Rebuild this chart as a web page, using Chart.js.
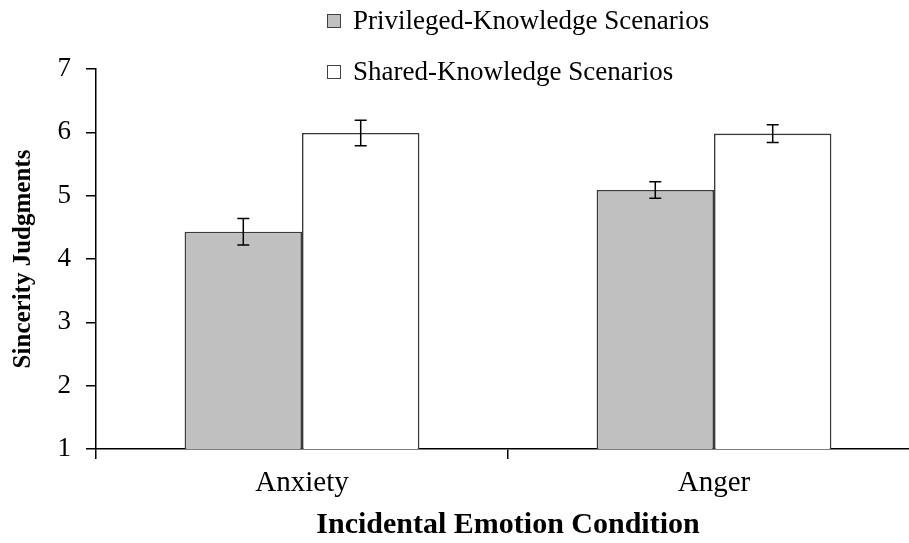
<!DOCTYPE html>
<html>
<head>
<meta charset="utf-8">
<script src="https://cdn.jsdelivr.net/npm/chart.js@4/dist/chart.umd.min.js"></script>
<style>
  html, body { margin: 0; padding: 0; background: #fff; overflow: hidden; }
  #wrap { position: relative; width: 909px; height: 543px; overflow: hidden; }
  #c { position: absolute; left: 0; top: 0; }
  .leg { position: absolute; left: 327px; height: 32px; display: flex; align-items: center;
         font-family: 'Liberation Serif', 'Times New Roman', serif; font-size: 27px; color: #000; white-space: nowrap; }
  .leg .box { width: 12px; height: 12px; border: 1.3px solid #404040; margin-right: 12px; margin-top: 2px; }
</style>
</head>
<body>
<div id="wrap">
  <canvas id="c" width="930" height="543"></canvas>
</div>
<script>
const categories = ['Anxiety', 'Anger'];
const seriesNames = ['Privileged-Knowledge Scenarios', 'Shared-Knowledge Scenarios'];
const privilegedMeans = [4.43, 5.09];
const privilegedErrors = [0.21, 0.13];
const sharedMeans = [5.99, 5.98];
const sharedErrors = [0.20, 0.14];
const yTickValues = [1, 2, 3, 4, 5, 6, 7];
const xTitle = 'Incidental Emotion Condition';
const yTitle = 'Sincerity Judgments';

const fillColors = ['#c0c0c0', '#ffffff'];
const errors = [privilegedErrors, sharedErrors];
const serif = "'Liberation Serif', 'Times New Roman', serif";

// HTML legend built from series names
const legendTops = [4, 55];
seriesNames.forEach((name, i) => {
  const d = document.createElement('div');
  d.className = 'leg';
  d.style.top = legendTops[i] + 'px';
  const b = document.createElement('span');
  b.className = 'box';
  b.style.background = fillColors[i];
  d.appendChild(b);
  d.appendChild(document.createTextNode(name));
  document.getElementById('wrap').appendChild(d);
});

const errorBarPlugin = {
  id: 'errorBars',
  afterDatasetsDraw(chart) {
    const ctx = chart.ctx;
    const y = chart.scales.y;
    ctx.save();
    ctx.strokeStyle = '#000';
    ctx.lineWidth = 1.5;
    chart.data.datasets.forEach((ds, di) => {
      const meta = chart.getDatasetMeta(di);
      meta.data.forEach((bar, i) => {
        const v = ds.data[i];
        const e = errors[di][i];
        const x = bar.x;
        const yTop = y.getPixelForValue(v + e);
        const yBot = y.getPixelForValue(v - e);
        const cap = 6;
        ctx.beginPath();
        ctx.moveTo(x, yTop); ctx.lineTo(x, yBot);
        ctx.moveTo(x - cap, yTop); ctx.lineTo(x + cap, yTop);
        ctx.moveTo(x - cap, yBot); ctx.lineTo(x + cap, yBot);
        ctx.stroke();
      });
    });
    ctx.restore();
  }
};

new Chart(document.getElementById('c'), {
  type: 'bar',
  data: {
    labels: categories,
    datasets: [
      { label: seriesNames[0], data: privilegedMeans, backgroundColor: fillColors[0],
        borderColor: '#3a3a3a', borderWidth: 1.6, categoryPercentage: 0.57, barPercentage: 1.0 },
      { label: seriesNames[1], data: sharedMeans, backgroundColor: fillColors[1],
        borderColor: '#3a3a3a', borderWidth: 1.6, categoryPercentage: 0.57, barPercentage: 1.0 }
    ]
  },
  options: {
    responsive: false,
    animation: false,
    layout: { padding: { top: 69, right: 10, bottom: 0, left: 0 } },
    plugins: { legend: { display: false }, tooltip: { enabled: false } },
    scales: {
      x: {
        grid: { display: true, drawOnChartArea: false, tickLength: 10, color: '#000', lineWidth: 1.5, offset: true },
        border: { display: true, color: '#000', width: 1.5 },
        ticks: { color: '#000', padding: 7, font: { family: serif, size: 29 } },
        title: { display: true, text: xTitle, color: '#000', padding: { top: 0, bottom: 0 },
                 font: { family: serif, size: 30, weight: 'bold' } },
        afterFit(scale) { scale.height = 94; }
      },
      y: {
        min: yTickValues[0],
        max: yTickValues[yTickValues.length - 1],
        grid: { display: true, drawOnChartArea: false, tickLength: 10, color: '#000', lineWidth: 1.5 },
        border: { display: true, color: '#000', width: 1.5 },
        afterBuildTicks(scale) { scale.ticks = yTickValues.map(v => ({ value: v })); },
        ticks: { color: '#000', padding: 15, font: { family: serif, size: 27 } },
        title: { display: true, text: yTitle, color: '#000', padding: { top: 9, bottom: 0 },
                 font: { family: serif, size: 25, weight: 'bold' } },
        afterFit(scale) { scale.width = 96; }
      }
    }
  },
  plugins: [errorBarPlugin]
});
</script>
</body>
</html>
